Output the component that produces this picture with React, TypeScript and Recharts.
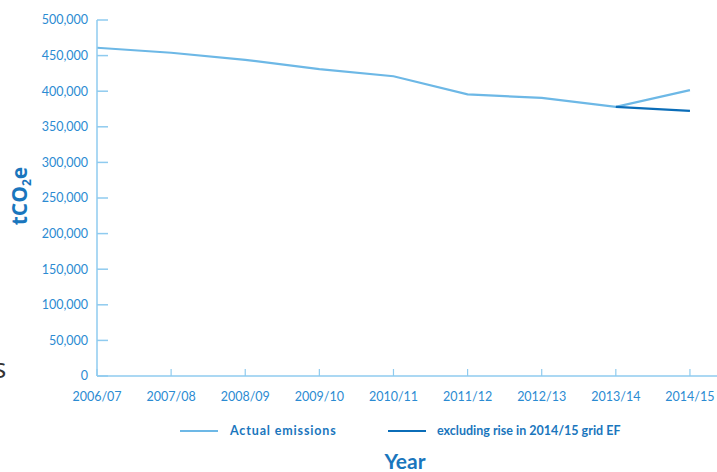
import React from 'react';
import { LineChart, Line, XAxis, YAxis } from 'recharts';

const categories = ['2006/07', '2007/08', '2008/09', '2009/10', '2010/11', '2011/12', '2012/13', '2013/14', '2014/15'];
const actualEmissions = [461000, 454000, 444000, 431000, 421000, 395500, 390500, 378000, 401500];
const excludingRise = [null, null, null, null, null, null, null, 378000, 372500];
const yTicks = [0, 50000, 100000, 150000, 200000, 250000, 300000, 350000, 400000, 450000, 500000];

const data = categories.map((c, i) => ({
  idx: i,
  label: c,
  actual: actualEmissions[i],
  excluding: excludingRise[i],
}));

const FONT = 'Lato, "Open Sans", sans-serif';
const AXIS = '#8fcbef';
const TICK = '#2b8bd2';
const LABEL = '#1a76bd';

export default function App() {
  return (
    <div style={{ position: 'absolute', left: 0, top: 0, width: 717, height: 472, fontFamily: FONT, overflow: 'hidden' }}>
      <LineChart width={717} height={472} data={data} margin={{ top: 20, right: 0, bottom: 66, left: 0 }}>
        <XAxis
          dataKey="idx"
          type="number"
          domain={[0, 8.365]}
          ticks={[0, 1, 2, 3, 4, 5, 6, 7, 8]}
          allowDataOverflow
          tickFormatter={(v: number) => categories[v] ?? ''}
          height={30}
          tickSize={-7}
          tickMargin={23}
          stroke={AXIS}
          tick={{ fill: TICK, fontSize: 12.5, fontFamily: FONT }}
          axisLine={{ stroke: AXIS, strokeWidth: 1.5 }}
          tickLine={{ stroke: AXIS, strokeWidth: 1.2 }}
        />
        <YAxis
          type="number"
          domain={[0, 500000]}
          ticks={yTicks}
          width={97}
          tickSize={-11}
          tickMargin={20}
          stroke={AXIS}
          tickFormatter={(v: number) => v.toLocaleString('en-US')}
          tick={{ fill: TICK, fontSize: 12.5, fontFamily: FONT }}
          axisLine={{ stroke: AXIS, strokeWidth: 1.5 }}
          tickLine={{ stroke: AXIS, strokeWidth: 1.5 }}
        />
        <Line dataKey="actual" stroke="#6db8e6" strokeWidth={2.2} dot={false} isAnimationActive={false} />
        <Line dataKey="excluding" stroke="#0b6db8" strokeWidth={2.2} dot={false} connectNulls={false} isAnimationActive={false} />
      </LineChart>

      <div style={{ position: 'absolute', left: 21, top: 196, transform: 'translate(-50%, -50%) rotate(-90deg)', color: LABEL, fontWeight: 700, fontSize: 21, whiteSpace: 'nowrap', lineHeight: 1, fontFamily: '"Open Sans", sans-serif' }}>
        tCO<sub style={{ fontSize: 12, verticalAlign: '-0.3em' }}>2</sub>e
      </div>

      <span style={{ position: 'absolute', left: 180, top: 430, width: 38, height: 0, borderTop: '2px solid #6db8e6' }} />
      <div style={{ position: 'absolute', left: 230, top: 423, fontSize: 12.5, fontWeight: 700, color: LABEL, whiteSpace: 'nowrap', letterSpacing: 0.85, lineHeight: 1.2 }}>
        Actual emissions
      </div>
      <span style={{ position: 'absolute', left: 388, top: 430, width: 38, height: 0, borderTop: '2px solid #0b6db8' }} />
      <div style={{ position: 'absolute', left: 437, top: 423, fontSize: 12.5, fontWeight: 700, color: LABEL, whiteSpace: 'nowrap', lineHeight: 1.2 }}>
        excluding rise in 2014/15 grid EF
      </div>

      <div style={{ position: 'absolute', left: 405, top: 460, transform: 'translate(-50%, -50%)', color: LABEL, fontWeight: 700, fontSize: 21, lineHeight: 1 }}>
        Year
      </div>

      <div style={{ position: 'absolute', left: -7, top: 353, color: '#333', fontSize: 28, lineHeight: 1, fontFamily: '"Open Sans", sans-serif' }}>
        s
      </div>
    </div>
  );
}
